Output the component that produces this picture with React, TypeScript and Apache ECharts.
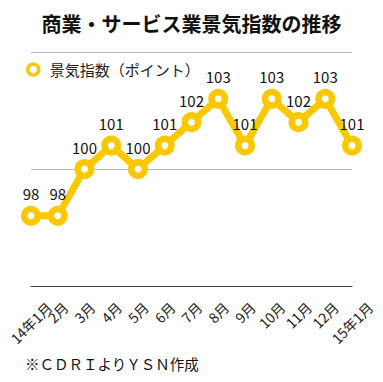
import React, { useEffect, useRef } from "react";
import * as echarts from "echarts";

const categories = ["14年1月", "2月", "3月", "4月", "5月", "6月", "7月", "8月", "9月", "10月", "11月", "12月", "15年1月"];
const values = [98, 98, 100, 101, 100, 101, 102, 103, 101, 103, 102, 103, 101];
const seriesName = "景気指数（ポイント）";
const titleText = "商業・サービス業景気指数の推移";
const footerText = "※ＣＤＲＩよりＹＳＮ作成";

const FONT = "'Noto Sans CJK JP', 'Noto Sans', sans-serif";
const GOLD = "#F9C800";
const AXIS_FONT_SIZE = 14;

function measure(text: string, font: string): number {
  const c = document.createElement("canvas").getContext("2d");
  if (!c) return text.length * 10;
  c.font = font;
  return c.measureText(text).width;
}

export default function App() {
  const ref = useRef<HTMLDivElement>(null);
  useEffect(() => {
    if (!ref.current) return;
    const chart = echarts.init(ref.current, null, { renderer: "svg" });
    // Excel-like rotated labels: rotated bounding box centred on tick, top aligned.
    const K = 26.2;
    const rich: Record<string, any> = {};
    categories.forEach((c, i) => {
      const w = measure(c, `${AXIS_FONT_SIZE}px ${FONT}`);
      const pt = K + 0.5 * w;
      const pr = (K - 0.5 * w) / 2;
      rich["r" + i] = {
        fontFamily: FONT,
        fontSize: AXIS_FONT_SIZE,
        color: "#222",
        padding: [pt, pr, 0, 0],
      };
    });
    chart.setOption({
      animation: false,
      backgroundColor: "#ffffff",
      title: {
        text: titleText,
        left: "center",
        top: 8,
        textStyle: { fontFamily: FONT, fontSize: 20, fontWeight: "bold", color: "#111" },
      },
      legend: {
        left: 21,
        top: 57,
        itemWidth: 11,
        itemHeight: 11,
        textStyle: { fontFamily: FONT, fontSize: 15, color: "#222", padding: [0, 0, 0, 6] },
        data: [{ name: seriesName, icon: "circle", itemStyle: { color: "#fff", borderColor: GOLD, borderWidth: 3.5 } }],
      },
      graphic: [
        {
          type: "text",
          left: 25,
          top: 356,
          style: { text: footerText, font: `14.5px ${FONT}`, fill: "#111" },
        },
      ],
      grid: { left: 31, right: 31, top: 52, bottom: 96 },
      xAxis: {
        type: "category",
        data: categories,
        boundaryGap: false,
        axisLine: { lineStyle: { color: "#444", width: 1 } },
        axisTick: { show: false },
        axisLabel: {
          rotate: 45,
          interval: 0,
          margin: 0,
          fontFamily: FONT,
          fontSize: AXIS_FONT_SIZE,
          color: "#222",
          formatter: (v: string) => `{r${categories.indexOf(v)}|${v}}`,
          rich,
        },
      },
      yAxis: {
        type: "value",
        min: 95,
        max: 105,
        interval: 5,
        axisLabel: { show: false },
        axisLine: { show: false },
        axisTick: { show: false },
        splitLine: { lineStyle: { color: "#bbb", width: 1 } },
      },
      series: [
        {
          name: seriesName,
          type: "line",
          data: values,
          symbol: "circle",
          symbolSize: 13.5,
          lineStyle: { color: GOLD, width: 7 },
          itemStyle: { color: "#fff", borderColor: GOLD, borderWidth: 6.5 },
          label: {
            show: true,
            position: "top",
            distance: 4.5,
            fontFamily: FONT,
            fontSize: 15,
            color: "#111",
          },
        },
      ],
    });
    return () => chart.dispose();
  }, []);
  return <div ref={ref} style={{ width: 383, height: 382, position: "absolute", left: 0, top: 0 }} />;
}
